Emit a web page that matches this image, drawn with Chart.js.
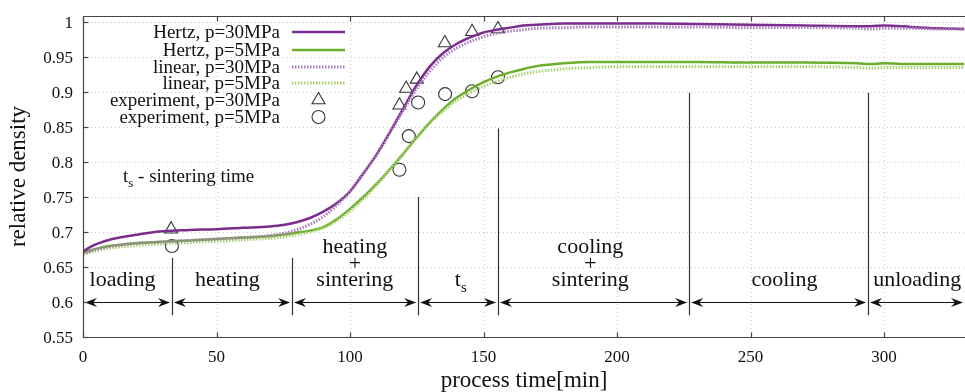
<!DOCTYPE html>
<html><head><meta charset="utf-8">
<script src="https://cdn.jsdelivr.net/npm/chart.js@4.4.1/dist/chart.umd.min.js"></script>
<style>html,body{margin:0;padding:0;background:#fff}</style>
</head><body>
<canvas id="c" width="965" height="392"></canvas>
<script>
// ---------- data ----------
const curveTimes = [0,3,6,10,15,20,25,30,35,40,50,60,70,75,80,85,90,95,100,105,110,115,120,125,130,135,140,145,150,155,160,165,170,180,190,200,215,230,250,270,290,295,300,310,320,330];
const hertz30 = [0.672,0.679,0.684,0.689,0.693,0.696,0.699,0.701,0.702,0.703,0.704,0.706,0.708,0.710,0.714,0.720,0.729,0.741,0.758,0.784,0.811,0.843,0.877,0.910,0.937,0.956,0.969,0.978,0.985,0.989,0.992,0.995,0.996,0.998,0.998,0.998,0.998,0.997,0.996,0.995,0.994,0.994,0.995,0.993,0.991,0.990];
const hertz5 = [0.670,0.674,0.677,0.680,0.682,0.684,0.685,0.686,0.687,0.688,0.690,0.692,0.694,0.696,0.699,0.702,0.707,0.718,0.733,0.750,0.769,0.790,0.812,0.835,0.857,0.876,0.892,0.904,0.914,0.922,0.928,0.933,0.937,0.941,0.943,0.943,0.943,0.943,0.942,0.942,0.941,0.940,0.941,0.940,0.940,0.940];
const linear30 = [0.669,0.673,0.676,0.679,0.682,0.684,0.685,0.686,0.687,0.688,0.690,0.692,0.695,0.698,0.703,0.711,0.722,0.738,0.758,0.783,0.811,0.842,0.874,0.905,0.930,0.950,0.963,0.972,0.979,0.984,0.987,0.989,0.991,0.992,0.993,0.993,0.993,0.993,0.992,0.992,0.991,0.990,0.991,0.991,0.990,0.990];
const linear5 = [0.668,0.671,0.674,0.677,0.679,0.681,0.682,0.683,0.684,0.685,0.687,0.689,0.691,0.693,0.696,0.700,0.706,0.716,0.730,0.747,0.767,0.789,0.812,0.835,0.856,0.873,0.888,0.899,0.908,0.915,0.921,0.926,0.929,0.933,0.935,0.936,0.936,0.936,0.936,0.936,0.935,0.934,0.935,0.935,0.935,0.935];
const exp30Times = [33.0,118.5,121.0,125.0,135.5,145.7,155.4];
const exp30Vals  = [0.704,0.881,0.905,0.918,0.970,0.986,0.990];
const exp5Times  = [33.3,118.5,122.0,125.5,135.6,145.7,155.4];
const exp5Vals   = [0.680,0.789,0.837,0.885,0.897,0.901,0.921];
const xTicks = [0,50,100,150,200,250,300];
const yTicks = [0.55,0.6,0.65,0.7,0.75,0.8,0.85,0.9,0.95,1];
const phaseBounds = [33.3,78.3,125.5,155.4,227,294];
const phaseLineTops = [0.663,0.663,0.75,0.848,0.899,0.899];
const phaseNames = [["loading"],["heating"],["heating","+","sintering"],["t_s"],["cooling","+","sintering"],["cooling"],["unloading"]];
const phaseCenters = [14.8,54.1,101.8,141.5,190,262.7,312.4];
const legendNames = ["Hertz, p=30MPa","Hertz, p=5MPa","linear, p=30MPa","linear, p=5MPa","experiment, p=30MPa","experiment, p=5MPa"];

// ---------- style ----------
const SERIF = '"Liberation Serif","DejaVu Serif","Times New Roman",serif';
const PURPLE = '#7b2c8f', GREEN = '#6aae2c', PURPLE_L = '#a97cbd', GREEN_L = '#a8cf72';
const INK = '#111';
Chart.defaults.font.family = SERIF;

const xy = (ts, vs) => ts.map((t,i)=>({x:t,y:vs[i]}));

const curveDS = (label, vals, color, width, dash) => ({
  label, data: xy(curveTimes, vals), borderColor: color, borderWidth: width,
  borderDash: dash, pointRadius: 0, fill: false, cubicInterpolationMode: 'monotone'
});
const expDS = (label, ts, vs, style, r) => ({
  label, data: xy(ts, vs), showLine: false, pointStyle: style, pointRadius: r,
  pointBorderColor: '#333', pointBackgroundColor: 'rgba(0,0,0,0)', pointBorderWidth: 1.1,
  borderColor: '#333'
});

function line(ctx,x1,y1,x2,y2){ctx.beginPath();ctx.moveTo(x1,y1);ctx.lineTo(x2,y2);ctx.stroke();}
function head(ctx, tipX, y, dir){
  ctx.beginPath();
  ctx.moveTo(tipX, y);
  ctx.lineTo(tipX - dir*12, y - 4.5);
  ctx.lineTo(tipX - dir*8, y);
  ctx.lineTo(tipX - dir*12, y + 4.5);
  ctx.closePath(); ctx.fill();
}
function subText(ctx, main, sub, x, y, size, align){
  ctx.font = size+'px '+SERIF;
  const w1 = ctx.measureText(main).width;
  ctx.font = Math.round(size*0.68)+'px '+SERIF;
  const w2 = ctx.measureText(sub).width;
  let x0 = align==='center' ? x - (w1+w2)/2 : x;
  ctx.textAlign='left';
  ctx.font = size+'px '+SERIF; ctx.fillText(main, x0, y);
  ctx.font = Math.round(size*0.68)+'px '+SERIF; ctx.fillText(sub, x0+w1, y+size*0.28);
  return x0 + w1 + w2;
}

const deco = {
  id: 'deco',
  beforeDatasetsDraw(chart){
    const {ctx, chartArea:a, scales:{x,y}} = chart;
    ctx.save();
    ctx.strokeStyle = '#cfcfcf'; ctx.lineWidth = 1; ctx.setLineDash([1,3]);
    xTicks.forEach(v=>{ if(v===0) return; const px=Math.round(x.getPixelForValue(v))+0.5; line(ctx,px,a.top,px,a.bottom); });
    yTicks.forEach(v=>{ if(v===0.55) return; const py=Math.round(y.getPixelForValue(v))+0.5; line(ctx,a.left,py,a.right,py); });
    ctx.setLineDash([]);
    ctx.strokeStyle = '#333'; ctx.lineWidth = 1.2;
    const yBot = y.getPixelForValue(0.581);
    phaseBounds.forEach((t,i)=>{ const px=Math.round(x.getPixelForValue(t))+0.5; line(ctx,px,y.getPixelForValue(phaseLineTops[i]),px,yBot); });
    const ya = Math.round(y.getPixelForValue(0.6))+0.5;
    const pts = [0].concat(phaseBounds).concat([x.max]);
    ctx.fillStyle = INK; ctx.strokeStyle = INK; ctx.lineWidth = 1.1;
    for(let i=0;i<pts.length-1;i++){
      const x1 = x.getPixelForValue(pts[i]) + 2;
      const x2 = Math.min(x.getPixelForValue(pts[i+1]), a.right) - 2;
      line(ctx,x1+6,ya,x2-6,ya);
      head(ctx,x1,ya,-1); head(ctx,x2,ya,1);
    }
    ctx.fillStyle = INK; ctx.textBaseline='alphabetic';
    const base = 286;
    phaseNames.forEach((lines,i)=>{
      const cx = x.getPixelForValue(phaseCenters[i]);
      const n = lines.length;
      lines.forEach((s,k)=>{
        const by = base - (n-1-k)*16.5;
        if(s==='t_s'){ subText(ctx,'t','s',cx,by,22,'center'); return; }
        ctx.font = '22px '+SERIF; ctx.textAlign='center';
        ctx.fillText(s,cx,by);
      });
    });
    ctx.fillStyle = INK;
    const ex = subText(ctx,'t','s',123,182,19,'left');
    ctx.font = '19px '+SERIF; ctx.textAlign='left';
    ctx.fillText(' - sintering time', ex, 182);
    ctx.restore();
  },
  afterDatasetsDraw(chart){
    const {ctx, chartArea:a, scales:{x,y}} = chart;
    ctx.save();
    ctx.strokeStyle = '#444'; ctx.lineWidth = 1.2;
    const L=Math.round(a.left)+0.5, B=Math.round(a.bottom)+0.5, T=Math.round(a.top)+0.5;
    line(ctx,L,T,a.right,T); line(ctx,L,T,L,B); line(ctx,L,B,a.right,B);
    xTicks.forEach(v=>{ const px=Math.round(x.getPixelForValue(v))+0.5; line(ctx,px,B,px,B-5); line(ctx,px,T,px,T+5); });
    yTicks.forEach(v=>{ const py=Math.round(y.getPixelForValue(v))+0.5; line(ctx,L,py,L+5,py); });
    // legend
    const rows = [32,50,67,83,100,117];
    const tx = 280, sx1 = 292, sx2 = 345, mx = 318.5;
    ctx.font = '19px '+SERIF; ctx.textAlign='right'; ctx.textBaseline='middle'; ctx.fillStyle=INK;
    legendNames.forEach((s,i)=>ctx.fillText(s,tx,rows[i]+1));
    const ds = chart.data.datasets;
    for(let i=0;i<4;i++){
      const d = ds.find(q=>q.label===legendNames[i]);
      ctx.strokeStyle = d.borderColor; ctx.lineWidth = d.borderWidth;
      ctx.setLineDash(d.borderDash||[]);
      line(ctx,sx1,rows[i],sx2,rows[i]);
    }
    ctx.setLineDash([]);
    ctx.strokeStyle='#333'; ctx.lineWidth=1.1;
    const r=7.5, e=r*Math.sqrt(3);
    ctx.beginPath(); ctx.moveTo(mx,rows[4]-r); ctx.lineTo(mx+e/2,rows[4]+r/2); ctx.lineTo(mx-e/2,rows[4]+r/2); ctx.closePath(); ctx.stroke();
    ctx.beginPath(); ctx.arc(mx,rows[5],6.5,0,Math.PI*2); ctx.stroke();
    ctx.restore();
  }
};

new Chart(document.getElementById('c'), {
  type: 'line',
  data: { datasets: [
    curveDS(legendNames[2], linear30, PURPLE_L, 3, [1.5,1.5]),
    curveDS(legendNames[3], linear5, GREEN_L, 3, [1.5,1.5]),
    curveDS(legendNames[0], hertz30, PURPLE, 2.5, []),
    curveDS(legendNames[1], hertz5, GREEN, 2.5, []),
    expDS(legendNames[4], exp30Times, exp30Vals, 'triangle', 7.5),
    expDS(legendNames[5], exp5Times, exp5Vals, 'circle', 6.5)
  ]},
  options: {
    responsive: false, animation: false, devicePixelRatio: 1,
    layout: { autoPadding: false, padding: { top: 16, right: 0, left: 0, bottom: 0 } },
    plugins: { legend: { display: false }, tooltip: { enabled: false } },
    scales: {
      x: {
        type: 'linear', min: 0, max: 330.3,
        grid: { display: false, drawTicks: false }, border: { display: false },
        afterBuildTicks: s => { s.ticks = xTicks.map(v=>({value:v})); },
        afterFit: s => { s.height = 55; s.paddingLeft = 0; s.paddingRight = 0; },
        ticks: { color: INK, font: { size: 17 }, padding: 10, maxRotation: 0, autoSkip: false },
        title: { display: true, text: 'process time[min]', color: INK, font: { size: 23, lineHeight: 1.0 }, padding: { top: 0, bottom: 0 } }
      },
      y: {
        min: 0.55, max: 1.0086,
        grid: { display: false, drawTicks: false }, border: { display: false },
        afterBuildTicks: s => { s.ticks = yTicks.map(v=>({value:v})); },
        afterFit: s => { s.width = 83; s.paddingTop = 0; s.paddingBottom = 0; },
        ticks: { color: INK, font: { size: 17 }, padding: 10, labelOffset: 2, autoSkip: false, callback: v => String(+Number(v).toFixed(2)) },
        title: { display: true, text: 'relative density', color: INK, font: { size: 23, lineHeight: 1.0 }, padding: { top: 7, bottom: 0 } }
      }
    }
  },
  plugins: [deco]
});
</script>
</body></html>
